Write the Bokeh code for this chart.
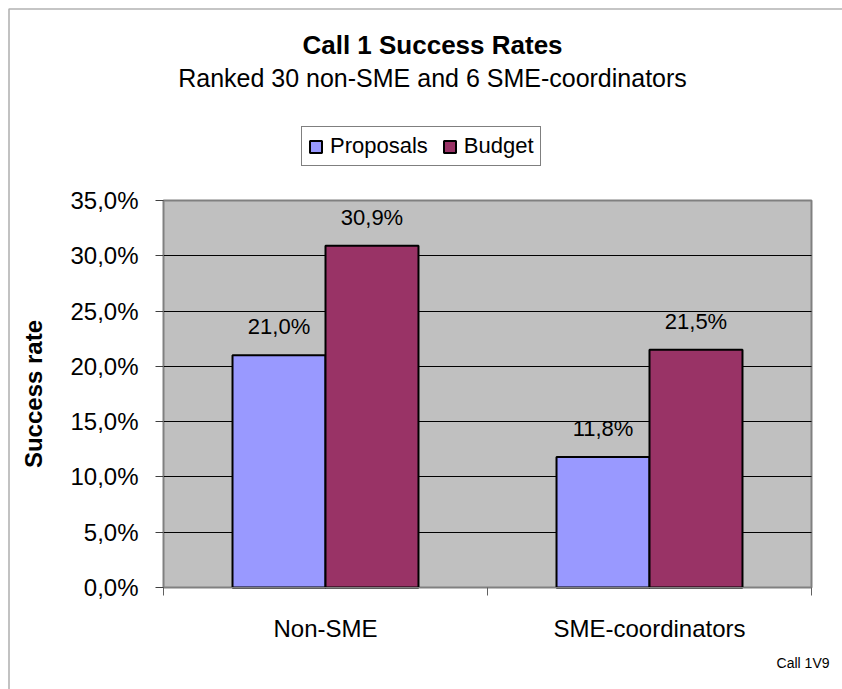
import math
from bokeh.plotting import figure
from bokeh.models import (Range1d, FixedTicker, CustomJSTickFormatter, ColumnDataSource,
                          LabelSet, Label, Legend, LegendItem, LinearAxis, BoxAnnotation)
from bokeh.core.properties import value
from bokeh.embed import file_html
from bokeh.resources import INLINE

# ---- data ----
categories = ["Non-SME", "SME-coordinators"]
proposals = [21.0, 11.8]
budget = [30.9, 21.5]
series_names = ["Proposals", "Budget"]
y_ticks = [0, 5, 10, 15, 20, 25, 30, 35]
title_text = "Call 1 Success Rates"
subtitle_text = "Ranked 30 non-SME and 6 SME-coordinators"
y_title = "Success rate"
footer_text = "Call 1V9"

FONT = "Liberation Sans"
C_PROP = "#9999FF"
C_BUD = "#993366"

# ---- canvas / plot-area geometry (pixels) ----
W, H = 842, 689
PL, PR, PT, PB = 163, 811, 200, 587          # plot area edges on the canvas
YMAX = float(max(y_ticks))
XMAX = float(len(categories))
sx = (PR - PL) / XMAX                         # px per x unit
sy = (PB - PT) / YMAX                         # px per y unit

def px_x(px):
    return (px - PL) / sx

def px_y(py):
    return (PB - py) / sy

p = figure(width=W, height=H, output_backend="svg", toolbar_location=None,
           x_range=Range1d(px_x(0), px_x(W)), y_range=Range1d(px_y(H), px_y(0)),
           x_axis_location=None, y_axis_location=None,
           min_border=0, min_border_left=0, min_border_right=0,
           min_border_top=0, min_border_bottom=0,
           background_fill_color="white", border_fill_color="white",
           outline_line_color=None)

# outer chart border (only left/top edges fall inside the window)
p.add_layout(BoxAnnotation(left=px_x(8.5), top=px_y(8.5), right=px_x(W + 50), bottom=px_y(H + 50),
                           fill_color=None, line_color="black", line_width=1.6, level="underlay"))

# plot area (grey)
p.quad(left=0, right=XMAX, bottom=0, top=YMAX, fill_color="#C0C0C0",
       line_color="#808080", line_width=2, level="image")

# grid
p.xgrid.grid_line_color = None
p.ygrid.ticker = FixedTicker(ticks=y_ticks[1:-1])
p.ygrid.cross_bounds = (0, XMAX)
p.ygrid.grid_line_color = "black"
p.ygrid.grid_line_width = 1

# bars
bar_w = 0.287
centers = [i + 0.5 for i in range(len(categories))]
src = ColumnDataSource(dict(
    xp=[c - bar_w / 2 for c in centers],
    xb=[c + bar_w / 2 for c in centers],
    prop=proposals, bud=budget,
    prop_lbl=[f"{v:.1f}%".replace(".", ",") for v in proposals],
    bud_lbl=[f"{v:.1f}%".replace(".", ",") for v in budget],
))
r1 = p.vbar(x="xp", top="prop", width=bar_w, bottom=0, source=src,
            fill_color=C_PROP, line_color="black", line_width=2)
r2 = p.vbar(x="xb", top="bud", width=bar_w, bottom=0, source=src,
            fill_color=C_BUD, line_color="black", line_width=2)

for xcol, ycol, tcol in [("xp", "prop", "prop_lbl"), ("xb", "bud", "bud_lbl")]:
    p.add_layout(LabelSet(x=xcol, y=ycol, text=tcol, source=src, y_offset=21,
                          text_align="center", text_baseline="alphabetic",
                          text_font=value(FONT), text_font_size="22px", text_color="black"))

# axes (fixed inside the canvas)
yax = LinearAxis(fixed_location=0, bounds=(0, YMAX))
yax.ticker = FixedTicker(ticks=y_ticks)
yax.formatter = CustomJSTickFormatter(code="return tick.toFixed(1).replace('.', ',') + '%';")
yax.axis_line_color = "#808080"
yax.axis_line_width = 1
yax.major_tick_line_color = "#404040"
yax.major_tick_out = 8
yax.major_tick_in = 0
yax.minor_tick_line_color = None
yax.major_label_text_font = FONT
yax.major_label_text_font_size = "24px"
yax.major_label_text_color = "black"
yax.major_label_standoff = 17
p.add_layout(yax, "left")

xax = LinearAxis(fixed_location=0, bounds=(0, XMAX))
xax.ticker = FixedTicker(ticks=centers, minor_ticks=[float(i) for i in range(len(categories) + 1)])
xax.formatter = CustomJSTickFormatter(args=dict(labels=categories), code="""
const i = Math.floor(tick);
return (Math.abs(tick - i - 0.5) < 1e-6 && i >= 0 && i < labels.length) ? labels[i] : '';
""")
xax.axis_line_color = "#808080"
xax.axis_line_width = 1
xax.major_tick_line_color = None
xax.minor_tick_line_color = "#606060"
xax.minor_tick_out = 8
xax.minor_tick_in = 0
xax.major_label_text_font = FONT
xax.major_label_text_font_size = "24px"
xax.major_label_text_color = "black"
xax.major_label_standoff = 19
p.add_layout(xax, "below")

# texts
p.add_layout(Label(x=px_x(432), y=px_y(44), text=title_text, text_align="center",
                   text_baseline="middle", text_font=FONT, text_font_size="26px",
                   text_font_style="bold", text_color="black"))
p.add_layout(Label(x=px_x(432), y=px_y(77), text=subtitle_text, text_align="center",
                   text_baseline="middle", text_font=FONT, text_font_size="25px",
                   text_color="black"))
p.add_layout(Label(x=px_x(33), y=YMAX / 2, text=y_title, angle=math.pi / 2,
                   text_align="center", text_baseline="middle", text_font=FONT,
                   text_font_size="24px", text_font_style="bold", text_color="black"))
p.add_layout(Label(x=px_x(829), y=px_y(662), text=footer_text, text_align="right",
                   text_baseline="middle", text_font=FONT, text_font_size="14px",
                   text_color="black"))

legend = Legend(items=[LegendItem(label=series_names[0], renderers=[r1]),
                       LegendItem(label=series_names[1], renderers=[r2])],
                orientation="horizontal", location=(301, H - 166),
                border_line_color="black", border_line_width=1,
                background_fill_color="white", background_fill_alpha=1,
                label_text_font=FONT, label_text_font_size="22px",
                label_text_color="black", glyph_width=15, glyph_height=15,
                label_standoff=7, spacing=14, padding=6, margin=0)
p.add_layout(legend, "center")

open("out.html", "w").write(file_html(p, INLINE))
